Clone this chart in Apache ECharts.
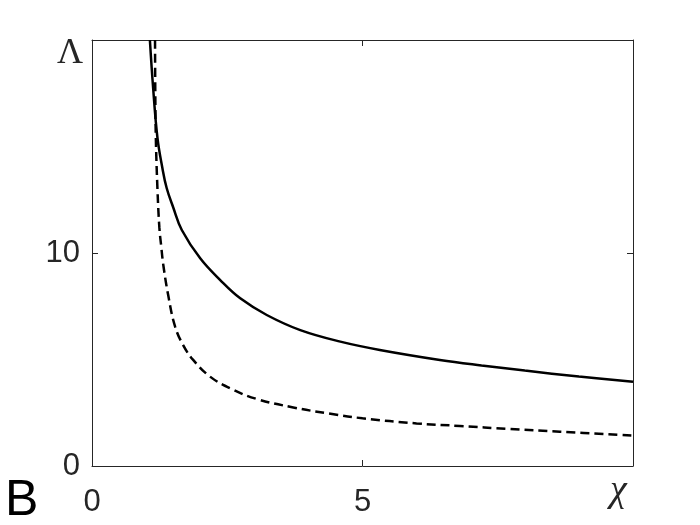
<!DOCTYPE html>
<html>
<head>
<meta charset="utf-8">
<script src="https://cdn.jsdelivr.net/npm/echarts@6/dist/echarts.min.js"></script>
<style>
  html, body { margin: 0; padding: 0; background: #fff; }
  #main { width: 700px; height: 525px; }
</style>
</head>
<body>
<div id="main"></div>
<script>
// solid curve
var chiSolid = [1.07, 1.13, 1.21, 1.3, 1.38, 1.5, 1.66, 2.0, 2.37, 2.74, 3.23, 3.85, 4.59, 5.32, 6.43, 7.2, 8.0, 9.0, 10];
var lamSolid = [20, 17.75, 15.4, 14.0, 13.05, 12.15, 11.08, 9.75, 8.73, 7.87, 7.09, 6.38, 5.84, 5.45, 4.98, 4.72, 4.48, 4.2, 3.96];
// dashed curve
var chiDashed = [1.165, 1.17, 1.18, 1.21, 1.245, 1.28, 1.32, 1.41, 1.535, 1.69, 1.87, 2.18, 2.55, 3.04, 3.72, 4.41, 5.0, 6.0, 6.8, 7.7, 8.65, 10];
var lamDashed = [20, 17.5, 15.4, 13.0, 11.2, 10.3, 9.4, 8.0, 6.55, 5.65, 4.98, 4.2, 3.65, 3.15, 2.75, 2.45, 2.24, 2.0, 1.88, 1.74, 1.61, 1.43];
// tick labels
var xTicks = ["0", "5"];
var yTicks = ["0", "10"];

function pairs(xs, ys) {
  return xs.map(function (x, i) { return [x, ys[i]]; });
}

var axisColor = "#262626";
var labelFont = "Liberation Sans, Arial, sans-serif";

function boxAxis(pos, max, interval, labels, margin) {
  return {
    type: "value", min: 0, max: max, interval: interval, position: pos,
    axisLine: { show: true, onZero: false, lineStyle: { color: axisColor, width: 1 } },
    axisTick: { show: true, inside: true, length: 6, lineStyle: { color: axisColor } },
    splitLine: { show: false },
    axisLabel: labels ? {
      margin: margin, color: axisColor, fontSize: 31, fontFamily: labelFont,
      formatter: function (v) { return labels.indexOf(String(v)) >= 0 ? String(v) : ""; }
    } : { show: false }
  };
}

var chart = echarts.init(document.getElementById("main"), null, { renderer: "canvas" });

chart.setOption({
  backgroundColor: "#fff",
  animation: false,
  grid: { left: 92, top: 40, width: 541, height: 426 },
  xAxis: [
    boxAxis("bottom", 10, 5, xTicks, 21),
    boxAxis("top", 10, 5, null)
  ],
  yAxis: [
    boxAxis("left", 20, 10, yTicks, 12),
    boxAxis("right", 20, 10, null)
  ],
  series: [
    {
      name: "solid", type: "line", data: pairs(chiSolid, lamSolid),
      showSymbol: false, smooth: 0.4, clip: true,
      lineStyle: { color: "#000", width: 2.5, type: "solid" }
    },
    {
      name: "dashed", type: "line", data: pairs(chiDashed, lamDashed),
      showSymbol: false, smooth: 0.4, clip: true,
      lineStyle: { color: "#000", width: 2.5, type: [9, 5] }
    }
  ],
  graphic: [
    {
      type: "text", left: 57, top: 36,
      style: { text: "Λ", font: "36px 'Liberation Serif', 'Times New Roman', serif", fill: axisColor }
    },
    {
      type: "text", left: 610, top: 472,
      style: { text: "χ", font: "italic 38px 'Liberation Serif', 'Times New Roman', serif", fill: axisColor }
    },
    {
      type: "text", left: 5, top: 476,
      style: { text: "B", font: "50px 'Liberation Sans', Arial, sans-serif", fill: "#000" }
    }
  ]
});
</script>
</body>
</html>
